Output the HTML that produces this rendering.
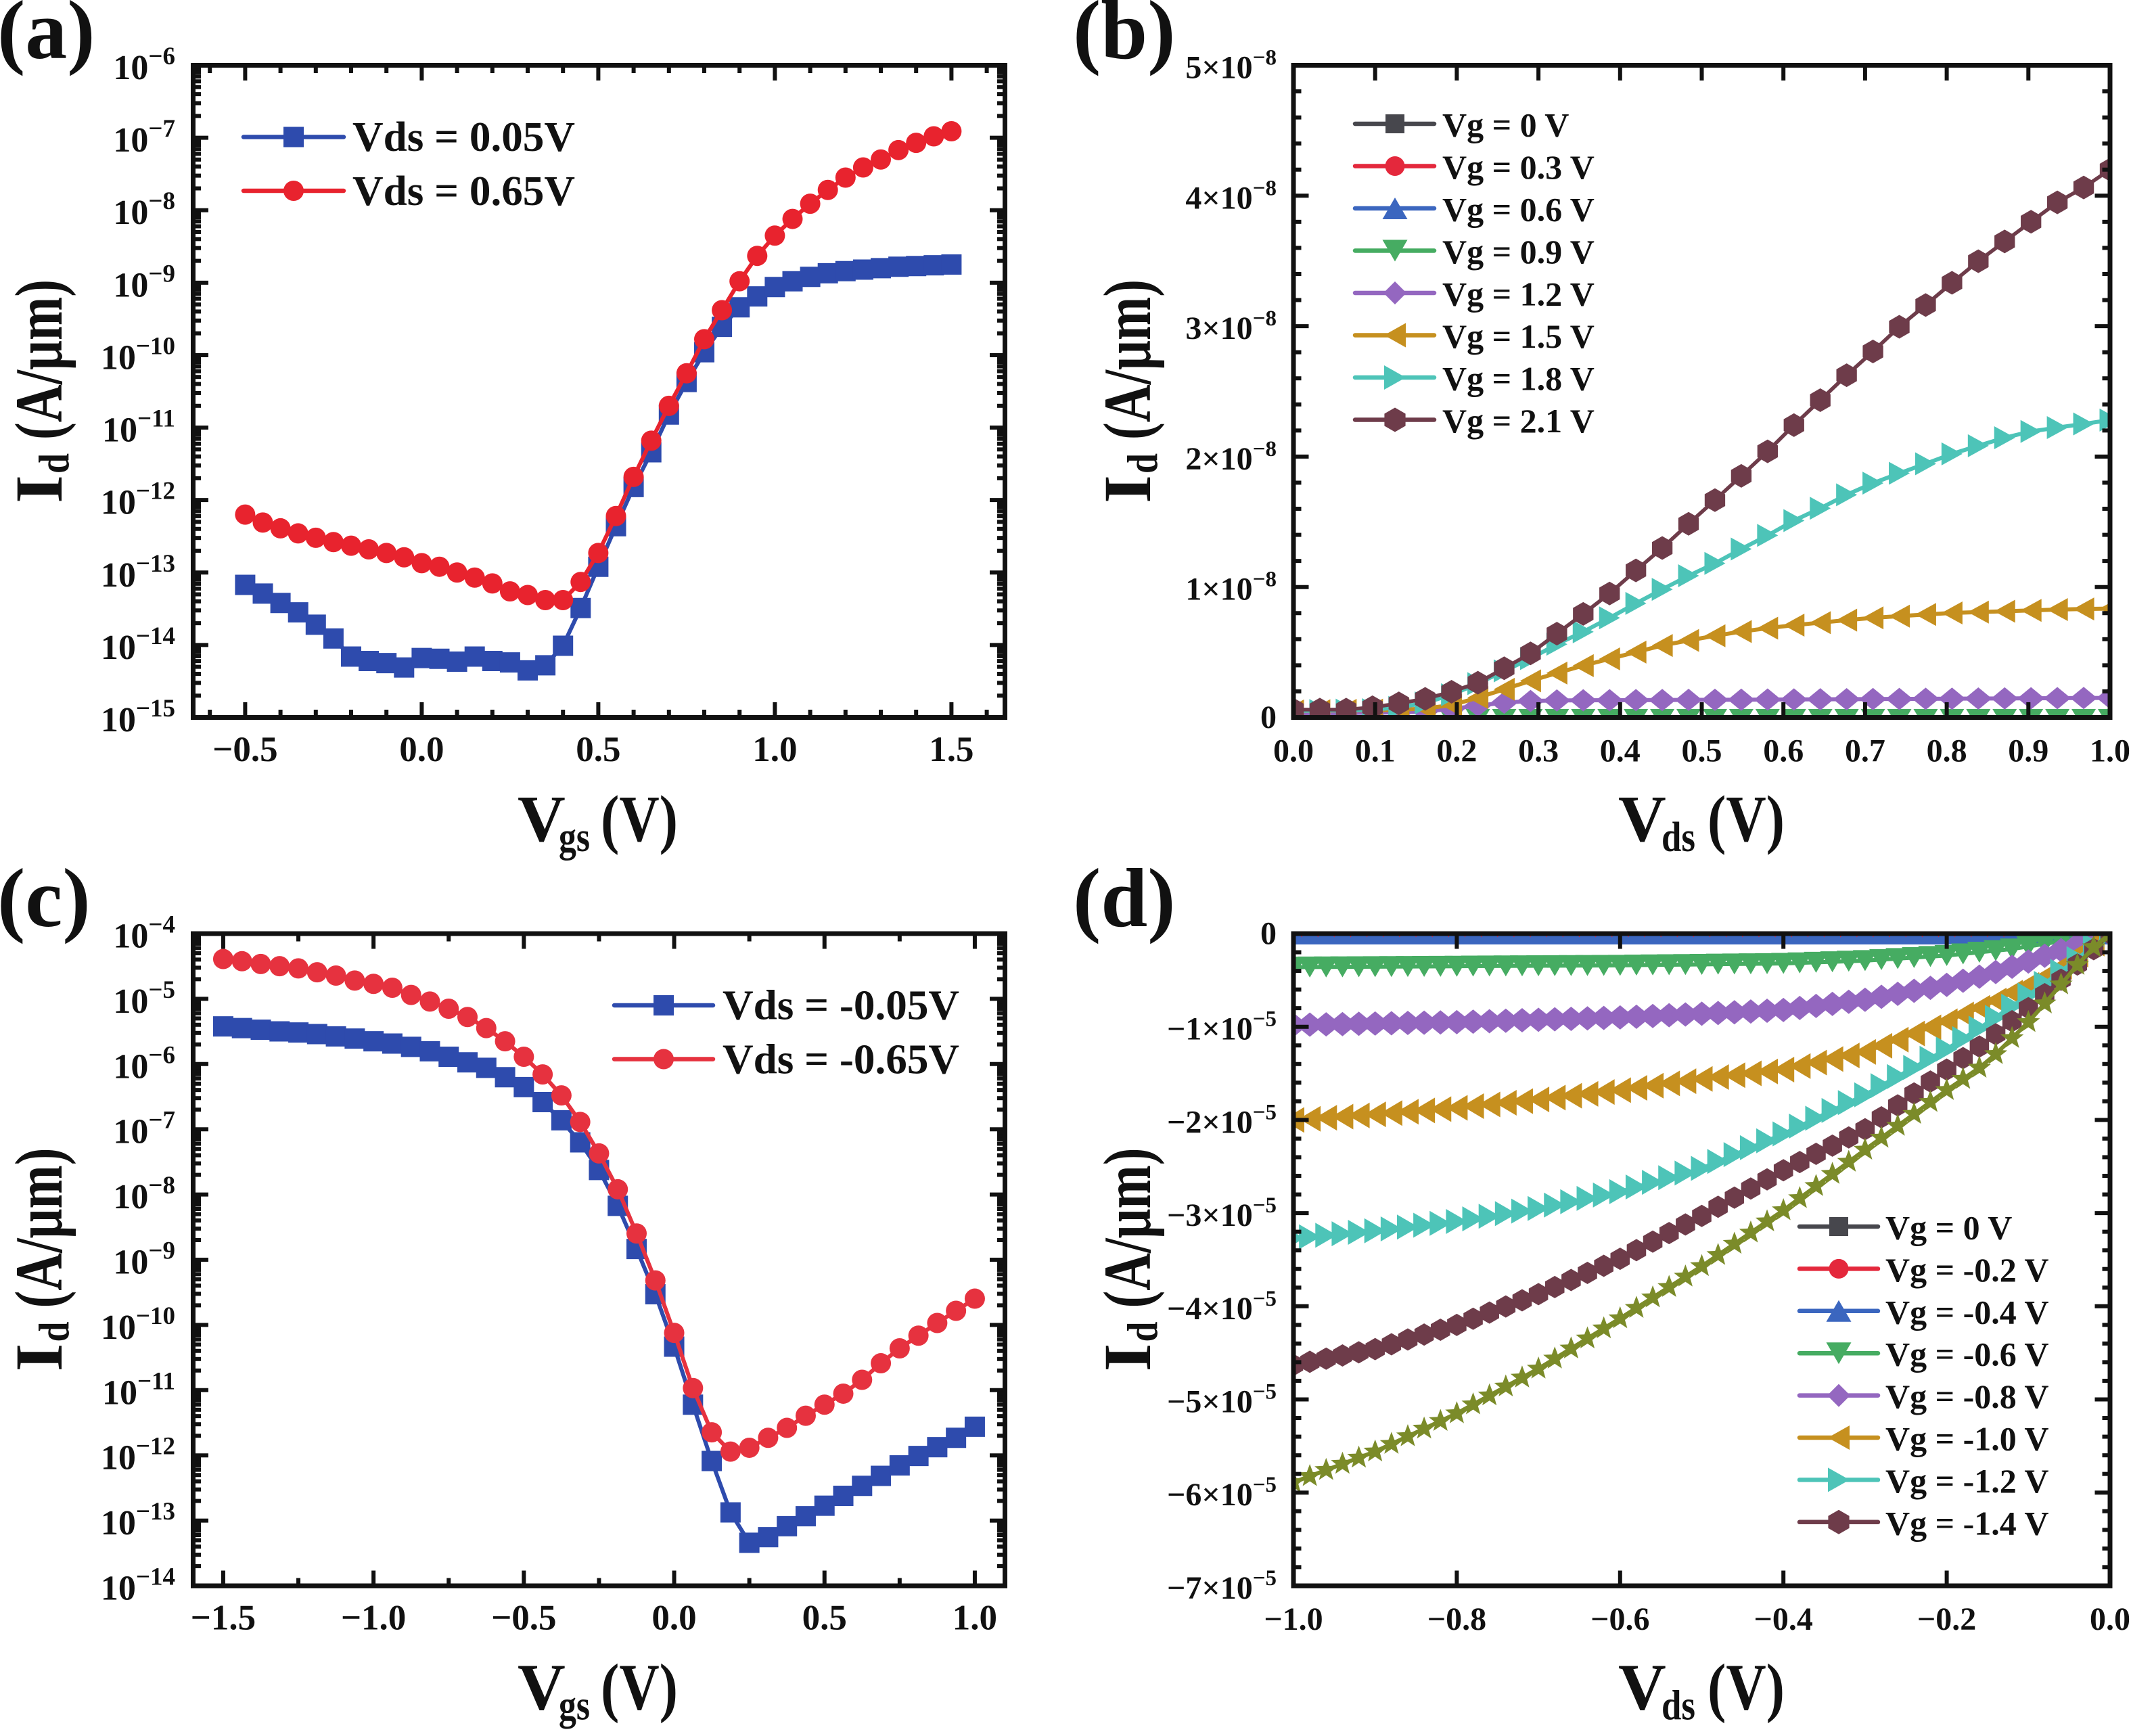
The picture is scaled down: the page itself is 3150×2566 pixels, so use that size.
<!DOCTYPE html>
<html><head><meta charset="utf-8">
<style>
html,body{margin:0;padding:0;background:#fff;}
svg{display:block;}
text{font-family:"Liberation Serif","DejaVu Serif",serif;font-weight:bold;fill:#111;}
</style></head>
<body>
<svg id="s" xmlns="http://www.w3.org/2000/svg" width="3150" height="2566" viewBox="0 0 3150 2566">
<defs>
<clipPath id="cA"><rect x="289" y="100" width="1193" height="957"/></clipPath>
<clipPath id="cB"><rect x="1915.5" y="100" width="1200" height="957"/></clipPath>
<clipPath id="cC"><rect x="289" y="1383.5" width="1193" height="957"/></clipPath>
<clipPath id="cD"><rect x="1915.5" y="1383.5" width="1200" height="957"/></clipPath>
</defs>
<rect x="0" y="0" width="3150" height="2566" fill="#fff"/>
<g id="data"></g>
<g id="frames"></g>
<g id="legs"></g>

<!-- panel labels -->
<text x="-4" y="86" font-size="124">(a)</text>
<text x="1586" y="86" font-size="124">(b)</text>
<text x="-4" y="1369" font-size="124">(c)</text>
<text x="1586" y="1369" font-size="124">(d)</text>

<!-- (a) y tick labels -->
<g font-size="52" text-anchor="end">
<text x="259" y="117">10<tspan font-size="37" dy="-22">−6</tspan></text>
<text x="259" y="224.1">10<tspan font-size="37" dy="-22">−7</tspan></text>
<text x="259" y="331.2">10<tspan font-size="37" dy="-22">−8</tspan></text>
<text x="259" y="438.3">10<tspan font-size="37" dy="-22">−9</tspan></text>
<text x="259" y="545.4">10<tspan font-size="37" dy="-22">−10</tspan></text>
<text x="259" y="652.6">10<tspan font-size="37" dy="-22">−11</tspan></text>
<text x="259" y="759.7">10<tspan font-size="37" dy="-22">−12</tspan></text>
<text x="259" y="866.8">10<tspan font-size="37" dy="-22">−13</tspan></text>
<text x="259" y="973.9">10<tspan font-size="37" dy="-22">−14</tspan></text>
<text x="259" y="1081">10<tspan font-size="37" dy="-22">−15</tspan></text>
</g>
<!-- (c) y tick labels -->
<g font-size="52" text-anchor="end">
<text x="259" y="1400.5">10<tspan font-size="37" dy="-22">−4</tspan></text>
<text x="259" y="1496.9">10<tspan font-size="37" dy="-22">−5</tspan></text>
<text x="259" y="1593.3">10<tspan font-size="37" dy="-22">−6</tspan></text>
<text x="259" y="1689.7">10<tspan font-size="37" dy="-22">−7</tspan></text>
<text x="259" y="1786.1">10<tspan font-size="37" dy="-22">−8</tspan></text>
<text x="259" y="1882.5">10<tspan font-size="37" dy="-22">−9</tspan></text>
<text x="259" y="1978.9">10<tspan font-size="37" dy="-22">−10</tspan></text>
<text x="259" y="2075.3">10<tspan font-size="37" dy="-22">−11</tspan></text>
<text x="259" y="2171.7">10<tspan font-size="37" dy="-22">−12</tspan></text>
<text x="259" y="2268.1">10<tspan font-size="37" dy="-22">−13</tspan></text>
<text x="259" y="2364.5">10<tspan font-size="37" dy="-22">−14</tspan></text>
</g>
<!-- (a) x tick labels -->
<g font-size="53" text-anchor="middle">
<text x="362.4" y="1125">−0.5</text>
<text x="623.4" y="1125">0.0</text>
<text x="884.4" y="1125">0.5</text>
<text x="1145.4" y="1125">1.0</text>
<text x="1406.4" y="1125">1.5</text>
</g>
<!-- (c) x tick labels -->
<g font-size="53" text-anchor="middle">
<text x="329.9" y="2408.5">−1.5</text>
<text x="552.1" y="2408.5">−1.0</text>
<text x="774.3" y="2408.5">−0.5</text>
<text x="996.5" y="2408.5">0.0</text>
<text x="1218.7" y="2408.5">0.5</text>
<text x="1440.9" y="2408.5">1.0</text>
</g>
<!-- (b) x tick labels -->
<g font-size="48" text-anchor="middle">
<text x="1912" y="1125.5">0.0</text>
<text x="2032.7" y="1125.5">0.1</text>
<text x="2153.4" y="1125.5">0.2</text>
<text x="2274.1" y="1125.5">0.3</text>
<text x="2394.8" y="1125.5">0.4</text>
<text x="2515.5" y="1125.5">0.5</text>
<text x="2636.2" y="1125.5">0.6</text>
<text x="2756.9" y="1125.5">0.7</text>
<text x="2877.6" y="1125.5">0.8</text>
<text x="2998.3" y="1125.5">0.9</text>
<text x="3119" y="1125.5">1.0</text>
</g>
<!-- (d) x tick labels -->
<g font-size="48" text-anchor="middle">
<text x="1912" y="2409">−1.0</text>
<text x="2153.4" y="2409">−0.8</text>
<text x="2394.8" y="2409">−0.6</text>
<text x="2636.2" y="2409">−0.4</text>
<text x="2877.6" y="2409">−0.2</text>
<text x="3119" y="2409">0.0</text>
</g>
<!-- (b) y tick labels -->
<g font-size="48" text-anchor="end">
<text x="1887" y="1076">0</text>
<text x="1887" y="886.7">1×10<tspan font-size="33" dy="-20">−8</tspan></text>
<text x="1887" y="693.9">2×10<tspan font-size="33" dy="-20">−8</tspan></text>
<text x="1887" y="501.1">3×10<tspan font-size="33" dy="-20">−8</tspan></text>
<text x="1887" y="308.3">4×10<tspan font-size="33" dy="-20">−8</tspan></text>
<text x="1887" y="115.5">5×10<tspan font-size="33" dy="-20">−8</tspan></text>
</g>
<!-- (d) y tick labels -->
<g font-size="48" text-anchor="end">
<text x="1887" y="1395.5">0</text>
<text x="1887" y="1536.7">−1×10<tspan font-size="33" dy="-20">−5</tspan></text>
<text x="1887" y="1674.4">−2×10<tspan font-size="33" dy="-20">−5</tspan></text>
<text x="1887" y="1812.1">−3×10<tspan font-size="33" dy="-20">−5</tspan></text>
<text x="1887" y="1949.8">−4×10<tspan font-size="33" dy="-20">−5</tspan></text>
<text x="1887" y="2087.5">−5×10<tspan font-size="33" dy="-20">−5</tspan></text>
<text x="1887" y="2225.2">−6×10<tspan font-size="33" dy="-20">−5</tspan></text>
<text x="1887" y="2362.9">−7×10<tspan font-size="33" dy="-20">−5</tspan></text>
</g>

<!-- x axis titles -->
<text x="765" y="1243" font-size="98">V</text>
<text x="826" y="1258" font-size="62" textLength="46" lengthAdjust="spacingAndGlyphs">gs</text>
<text x="888" y="1243" font-size="98" textLength="114" lengthAdjust="spacingAndGlyphs">(V)</text>

<text x="2392" y="1243" font-size="98">V</text>
<text x="2456" y="1258" font-size="62" textLength="50" lengthAdjust="spacingAndGlyphs">ds</text>
<text x="2524" y="1243" font-size="98" textLength="114" lengthAdjust="spacingAndGlyphs">(V)</text>

<text x="765" y="2526.5" font-size="98">V</text>
<text x="826" y="2541.5" font-size="62" textLength="46" lengthAdjust="spacingAndGlyphs">gs</text>
<text x="888" y="2526.5" font-size="98" textLength="114" lengthAdjust="spacingAndGlyphs">(V)</text>

<text x="2392" y="2526.5" font-size="98">V</text>
<text x="2456" y="2541.5" font-size="62" textLength="50" lengthAdjust="spacingAndGlyphs">ds</text>
<text x="2524" y="2526.5" font-size="98" textLength="114" lengthAdjust="spacingAndGlyphs">(V)</text>

<!-- y axis titles -->
<g transform="translate(91,744) rotate(-90)">
<text x="0" y="0" font-size="100" textLength="42" lengthAdjust="spacingAndGlyphs">I</text>
<text x="44" y="10" font-size="64" textLength="30" lengthAdjust="spacingAndGlyphs">d</text>
<text x="94" y="0" font-size="100" textLength="237" lengthAdjust="spacingAndGlyphs">(A/μm)</text>
</g>
<g transform="translate(1700,744) rotate(-90)">
<text x="0" y="0" font-size="100" textLength="42" lengthAdjust="spacingAndGlyphs">I</text>
<text x="44" y="10" font-size="64" textLength="30" lengthAdjust="spacingAndGlyphs">d</text>
<text x="94" y="0" font-size="100" textLength="237" lengthAdjust="spacingAndGlyphs">(A/μm)</text>
</g>
<g transform="translate(91,2027.5) rotate(-90)">
<text x="0" y="0" font-size="100" textLength="42" lengthAdjust="spacingAndGlyphs">I</text>
<text x="44" y="10" font-size="64" textLength="30" lengthAdjust="spacingAndGlyphs">d</text>
<text x="94" y="0" font-size="100" textLength="237" lengthAdjust="spacingAndGlyphs">(A/μm)</text>
</g>
<g transform="translate(1700,2027.5) rotate(-90)">
<text x="0" y="0" font-size="100" textLength="42" lengthAdjust="spacingAndGlyphs">I</text>
<text x="44" y="10" font-size="64" textLength="30" lengthAdjust="spacingAndGlyphs">d</text>
<text x="94" y="0" font-size="100" textLength="237" lengthAdjust="spacingAndGlyphs">(A/μm)</text>
</g>

<!-- legend texts -->
<text x="521" y="223" font-size="62" textLength="329" lengthAdjust="spacingAndGlyphs">Vds = 0.05V</text>
<text x="521" y="303" font-size="62" textLength="329" lengthAdjust="spacingAndGlyphs">Vds = 0.65V</text>
<text x="1068" y="1506.5" font-size="62" textLength="350" lengthAdjust="spacingAndGlyphs">Vds = -0.05V</text>
<text x="1068" y="1586.5" font-size="62" textLength="350" lengthAdjust="spacingAndGlyphs">Vds = -0.65V</text>

<g font-size="50">
<text x="2132" y="201.5">Vg = 0 V</text>
<text x="2132" y="264">Vg = 0.3 V</text>
<text x="2132" y="326.5">Vg = 0.6 V</text>
<text x="2132" y="389">Vg = 0.9 V</text>
<text x="2132" y="451.5">Vg = 1.2 V</text>
<text x="2132" y="514">Vg = 1.5 V</text>
<text x="2132" y="576.5">Vg = 1.8 V</text>
<text x="2132" y="639">Vg = 2.1 V</text>
</g>
<g font-size="50">
<text x="2787" y="1831.5">Vg = 0 V</text>
<text x="2787" y="1893.9">Vg = -0.2 V</text>
<text x="2787" y="1956.3">Vg = -0.4 V</text>
<text x="2787" y="2018.7">Vg = -0.6 V</text>
<text x="2787" y="2081.1">Vg = -0.8 V</text>
<text x="2787" y="2143.5">Vg = -1.0 V</text>
<text x="2787" y="2205.9">Vg = -1.2 V</text>
<text x="2787" y="2268.3">Vg = -1.4 V</text>
</g>
</svg>
<script>
(function(){
const NS='http://www.w3.org/2000/svg';
const DATA=document.getElementById('data'),FR=document.getElementById('frames'),LEG=document.getElementById('legs');
function mk(tag,a,p){const e=document.createElementNS(NS,tag);for(const k in a)e.setAttribute(k,a[k]);p.appendChild(e);return e;}
function interp(pts,x){if(x<=pts[0][0])return pts[0][1];for(let i=1;i<pts.length;i++){if(x<=pts[i][0]){const a=pts[i-1][0],b=pts[i-1][1],c=pts[i][0],d=pts[i][1];return b+(d-b)*(x-a)/(c-a);}}return pts[pts.length-1][1];}
const f=v=>v.toFixed(2);
const M={
 sq:s=>`M${-s/2},${-s/2}h${s}v${s}h${-s}z`,
 ci:r=>`M${-r},0a${r},${r} 0 1,0 ${2*r},0a${r},${r} 0 1,0 ${-2*r},0z`,
 tu:(w,h)=>`M0,${-h/2}L${w/2},${h/2}L${-w/2},${h/2}z`,
 td:(w,h)=>`M0,${h/2}L${w/2},${-h/2}L${-w/2},${-h/2}z`,
 tl:(w,h)=>`M${-w/2},0L${w/2},${-h/2}L${w/2},${h/2}z`,
 tr:(w,h)=>`M${w/2},0L${-w/2},${-h/2}L${-w/2},${h/2}z`,
 di:(w,h)=>`M0,${-h/2}L${w/2},0L0,${h/2}L${-w/2},0z`,
 hx:r=>{let s='';for(let k=0;k<6;k++){const a=(-90+60*k)*Math.PI/180;s+=(k?'L':'M')+f(r*Math.cos(a))+','+f(r*Math.sin(a));}return s+'z';},
 st:R=>{const r=R*0.42;let s='';for(let k=0;k<10;k++){const a=(-90+36*k)*Math.PI/180,rr=k%2?r:R;s+=(k?'L':'M')+f(rr*Math.cos(a))+','+f(rr*Math.sin(a));}return s+'z';}
};
function series(g,pts,col,md,lw){
 mk('polyline',{points:pts.map(p=>f(p[0])+','+f(p[1])).join(' '),fill:'none',stroke:col,'stroke-width':lw,'stroke-linejoin':'round'},g);
 for(const p of pts)mk('path',{d:md,transform:`translate(${f(p[0])},${f(p[1])})`,fill:col},g);
}
function frame(X0,Y0,X1,Y1,xMaj,xMin,yMaj,yMin){
 const g=mk('g',{stroke:'#111','stroke-width':6,fill:'none'},FR);
 const inn=3.5;
 [[xMaj,19],[xMin,8]].forEach(([arr,L])=>arr.forEach(x=>{
   mk('line',{x1:f(x),y1:Y1,x2:f(x),y2:Y1-inn-L},g);
   mk('line',{x1:f(x),y1:Y0,x2:f(x),y2:Y0+inn+L},g);}));
 [[yMaj,19],[yMin,8]].forEach(([arr,L])=>arr.forEach(y=>{
   mk('line',{x1:X0,y1:f(y),x2:X0+inn+L,y2:f(y)},g);
   mk('line',{x1:X1,y1:f(y),x2:X1-inn-L,y2:f(y)},g);}));
 mk('rect',{x:X0,y:Y0,width:X1-X0,height:Y1-Y0,'stroke-width':7},g);
}
function legItem(x0,x1,xm,y,col,md){
 mk('line',{x1:x0,y1:y,x2:x1,y2:y,stroke:col,'stroke-width':6.5,'stroke-linecap':'round'},LEG);
 mk('path',{d:md,transform:`translate(${xm},${y})`,fill:col},LEG);
}

/* ---------- Panel A ---------- */
const xA=v=>623.4+522*v, yA=l=>96.5+(-6-l)*107.11;
const redA=[-12.20,-12.31,-12.39,-12.46,-12.52,-12.58,-12.63,-12.68,-12.73,-12.79,-12.87,-12.92,-13.00,-13.07,-13.15,-13.26,-13.31,-13.38,-13.38,-13.13,-12.73,-12.22,-11.68,-11.18,-10.70,-10.25,-9.78,-9.38,-8.98,-8.63,-8.35,-8.12,-7.91,-7.72,-7.55,-7.41,-7.30,-7.17,-7.07,-6.98,-6.91];
const bluA=[-13.17,-13.29,-13.42,-13.55,-13.72,-13.91,-14.16,-14.22,-14.25,-14.31,-14.18,-14.19,-14.23,-14.16,-14.22,-14.24,-14.35,-14.28,-14.01,-13.49,-12.92,-12.36,-11.82,-11.34,-10.82,-10.37,-9.96,-9.61,-9.34,-9.19,-9.06,-8.98,-8.92,-8.87,-8.84,-8.82,-8.80,-8.78,-8.77,-8.76,-8.75];
const gA=mk('g',{'clip-path':'url(#cA)'},DATA);
const AB='#2E4BAD',AR='#E8232E';
series(gA,bluA.map((l,i)=>[xA(-0.5+0.05*i),yA(l)]),AB,M.sq(30),6);
series(gA,redA.map((l,i)=>[xA(-0.5+0.05*i),yA(l)]),AR,M.ci(15),6);
{
 const xMaj=[-0.5,0,0.5,1,1.5].map(xA);
 const xMin=[-0.6,-0.4,-0.3,-0.2,-0.1,0.1,0.2,0.3,0.4,0.6,0.7,0.8,0.9,1.1,1.2,1.3,1.4,1.6].map(xA);
 const yMaj=[],yMin=[];
 for(let n=-6;n>=-15;n--)yMaj.push(yA(n));
 for(let d=-15;d<=-7;d++)for(let k=2;k<=9;k++)yMin.push(yA(d+Math.log10(k)));
 frame(285.5,96.5,1485.5,1060.5,xMaj,xMin,yMaj,yMin);
}
legItem(360,508,434,202.5,AB,M.sq(30));
legItem(360,508,434,282,AR,M.ci(15));

/* ---------- Panel C ---------- */
const xC=v=>285.5+(v+1.6)*444.4, yC=l=>1380+(-4-l)*96.4;
const lz=z=>-4-(z-117)/118.1;
const redC=[163,167,172,176,180,187,193,202,208,215,228,240,253,268,288,312,340,372,410,458,515,580,660,745,840,940,1020,1055,1048,1030,1012,990,970,950,925,895,868,845,822,800,778];
const bluC=[285,288,291,294,296,299,303,307,312,316,322,330,340,350,360,377,395,422,455,495,545,610,688,770,865,970,1072,1165,1220,1210,1190,1172,1153,1135,1117,1099,1080,1063,1047,1030,1010];
const gC=mk('g',{'clip-path':'url(#cC)'},DATA);
const CB='#2E4BAD',CR='#E6323F';
series(gC,bluC.map((z,i)=>[xC(-1.5+0.0625*i),yC(lz(z))]),CB,M.sq(30),6);
series(gC,redC.map((z,i)=>[xC(-1.5+0.0625*i),yC(lz(z))]),CR,M.ci(15),6);
{
 const xMaj=[-1.5,-1,-0.5,0,0.5,1].map(xC);
 const xMin=[-1.25,-0.75,-0.25,0.25,0.75].map(xC);
 const yMaj=[],yMin=[];
 for(let n=-4;n>=-14;n--)yMaj.push(yC(n));
 for(let d=-14;d<=-5;d++)for(let k=2;k<=9;k++)yMin.push(yC(d+Math.log10(k)));
 frame(285.5,1380,1485.5,2344,xMaj,xMin,yMaj,yMin);
}
legItem(908,1054,981,1486,CB,M.sq(30));
legItem(908,1054,981,1565.5,CR,M.ci(15));

/* ---------- colours b/d ---------- */
const K='#47474D',R='#E4283C',B='#3B66BF',G='#46AC62',P='#9467C0',Y='#C6901F',C='#4DC4B8',W='#6E3C4A',O='#7B8B29';

/* ---------- Panel B ---------- */
const xB=v=>1912+1207*v, yB=v=>1060.5-192.8*v;
const wineB=[[0,0.06],[0.065,0.06],[0.1,0.08],[0.127,0.106],[0.158,0.137],[0.192,0.194],[0.224,0.26],[0.256,0.37],[0.29,0.49],[0.322,0.64],[0.354,0.79],[0.387,0.95],[0.418,1.12],[0.45,1.29],[0.483,1.48],[0.515,1.66],[0.548,1.85],[0.579,2.03],[0.611,2.23],[0.643,2.42],[0.675,2.61],[0.707,2.79],[0.739,2.98],[0.772,3.15],[0.804,3.32],[0.837,3.49],[0.869,3.64],[0.901,3.79],[0.933,3.94],[0.967,4.06],[1.0,4.2]];
const cyanB=[[0,0.05],[0.1,0.06],[0.15,0.09],[0.192,0.17],[0.226,0.26],[0.259,0.36],[0.29,0.45],[0.322,0.56],[0.356,0.66],[0.389,0.77],[0.421,0.88],[0.454,0.99],[0.485,1.09],[0.519,1.19],[0.548,1.29],[0.582,1.40],[0.613,1.51],[0.644,1.60],[0.675,1.70],[0.707,1.79],[0.741,1.87],[0.772,1.94],[0.806,2.02],[0.837,2.08],[0.868,2.14],[0.9,2.19],[0.933,2.22],[0.967,2.25],[1.0,2.28]];
const goldB=[[0,0.05],[0.15,0.06],[0.2,0.1],[0.25,0.2],[0.3,0.3],[0.35,0.39],[0.4,0.47],[0.45,0.55],[0.5,0.61],[0.55,0.66],[0.6,0.70],[0.65,0.73],[0.7,0.76],[0.75,0.78],[0.8,0.80],[0.85,0.81],[0.9,0.82],[0.95,0.83],[1.0,0.835]];
const purpB=[[0,0.03],[0.15,0.04],[0.2,0.07],[0.25,0.11],[0.3,0.13],[0.5,0.135],[1.0,0.15]];
const gB=mk('g',{'clip-path':'url(#cB)'},DATA);
const vB=[];for(let i=0;i<32;i++)vB.push(i/31);
const ptsB=fn=>vB.map(v=>[xB(v),yB(fn(v))]);
series(gB,ptsB(v=>-0.12),K,M.sq(28),6);
series(gB,ptsB(v=>-0.12),R,M.ci(14.5),6);
series(gB,ptsB(v=>-0.11),B,M.tu(36,32),6);
series(gB,ptsB(v=>-0.013),G,M.td(36,30),6);
series(gB,ptsB(v=>interp(purpB,v)),P,M.di(40,33),6);
series(gB,ptsB(v=>interp(goldB,v)),Y,M.tl(31,34),6);
series(gB,ptsB(v=>interp(cyanB,v)),C,M.tr(31,34),6);
series(gB,ptsB(v=>interp(wineB,v)),W,M.hx(17.5),5.5);
{
 const xMaj=[];for(let k=1;k<=9;k++)xMaj.push(xB(k/10));
 const yMaj=[],yMin=[];
 for(let k=1;k<=4;k++)yMaj.push(yB(k));
 for(let k=1;k<25;k++){if(k%5)yMin.push(yB(k*0.2));}
 frame(1912,96.5,3119,1060.5,xMaj,[],yMaj,yMin);
}
{
 const rows=[183,245.5,308,370.5,433,495.5,558,620.5];
 const cols=[K,R,B,G,P,Y,C,W];
 const mks=[M.sq(28),M.ci(14.5),M.tu(37,32),M.td(37,32),M.di(34,34),M.tl(32,36),M.tr(32,36),M.hx(18)];
 rows.forEach((y,i)=>legItem(2003,2120,2062,y,cols[i],mks[i]));
}

/* ---------- Panel D ---------- */
const xD=v=>3119+1207*v, yD=v=>1380-137.7*v;
const greenD=[[-1,-0.36],[-0.8,-0.35],[-0.6,-0.34],[-0.4,-0.32],[-0.3,-0.29],[-0.2,-0.235],[-0.16,-0.2],[-0.12,-0.165],[-0.08,-0.11],[-0.04,-0.05],[0,0]];
const purpD=[[-1,-0.98],[-0.8,-0.95],[-0.6,-0.9],[-0.4,-0.82],[-0.3,-0.71],[-0.2,-0.55],[-0.15,-0.44],[-0.1,-0.3],[-0.068,-0.2],[-0.03,-0.09],[0,0]];
const goldD=[[-1,-2.0],[-0.9,-1.94],[-0.8,-1.87],[-0.7,-1.78],[-0.6,-1.68],[-0.5,-1.56],[-0.4,-1.46],[-0.3,-1.27],[-0.2,-0.94],[-0.15,-0.76],[-0.1,-0.55],[-0.068,-0.41],[-0.03,-0.16],[0,0]];
const cyanD=[[-1,-3.27],[-0.9,-3.19],[-0.8,-3.09],[-0.7,-2.95],[-0.6,-2.77],[-0.5,-2.52],[-0.4,-2.15],[-0.3,-1.73],[-0.2,-1.24],[-0.152,-0.97],[-0.1,-0.66],[-0.068,-0.46],[-0.03,-0.2],[0,0]];
const wineD=[[-1,-4.63],[-0.9,-4.46],[-0.8,-4.2],[-0.7,-3.87],[-0.6,-3.49],[-0.5,-3.03],[-0.4,-2.54],[-0.3,-2.1],[-0.2,-1.46],[-0.15,-1.15],[-0.1,-0.8],[-0.068,-0.56],[-0.03,-0.25],[0,0]];
const oliveD=[[-1,-5.89],[-0.9,-5.56],[-0.8,-5.15],[-0.7,-4.67],[-0.6,-4.13],[-0.5,-3.57],[-0.4,-2.97],[-0.3,-2.32],[-0.2,-1.68],[-0.15,-1.38],[-0.1,-0.95],[-0.068,-0.63],[-0.026,-0.19],[0,0]];
const gD=mk('g',{'clip-path':'url(#cD)'},DATA);
const vD=[];for(let i=0;i<=50;i++)vD.push(-1+0.02*i);
const ptsD=fn=>vD.map(v=>[xD(v),yD(fn(v))]);
series(gD,ptsD(v=>0),K,M.sq(28),6);
series(gD,ptsD(v=>0),R,M.ci(14.5),6);
series(gD,ptsD(v=>0),B,M.tu(36,32),6);
series(gD,ptsD(v=>interp(greenD,v)),G,M.td(36,31),6);
series(gD,ptsD(v=>interp(purpD,v)),P,M.di(44,36),6);
series(gD,ptsD(v=>interp(goldD,v)),Y,M.tl(32,38),6);
series(gD,ptsD(v=>interp(cyanD,v)),C,M.tr(32,37),6);
series(gD,ptsD(v=>interp(wineD,v)),W,M.hx(16.5),6);
series(gD,ptsD(v=>interp(oliveD,v)),O,M.st(18),6);
{
 const xMaj=[-0.8,-0.6,-0.4,-0.2].map(xD);
 const yMaj=[],yMin=[];
 for(let k=1;k<=6;k++)yMaj.push(yD(-k));
 for(let k=1;k<35;k++){if(k%5)yMin.push(yD(-k*0.2));}
 frame(1912,1380,3119,2344,xMaj,[],yMaj,yMin);
}
{
 const cols=[K,R,B,G,P,Y,C,W];
 const mks=[M.sq(28),M.ci(14.5),M.tu(37,32),M.td(37,32),M.di(34,34),M.tl(32,36),M.tr(32,36),M.hx(18)];
 for(let i=0;i<8;i++)legItem(2660,2776,2718,1813+62.4*i,cols[i],mks[i]);
}
})();
</script>
</body></html>
